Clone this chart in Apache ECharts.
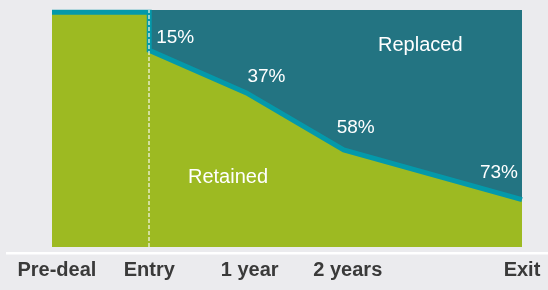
<!DOCTYPE html>
<html>
<head>
<meta charset="utf-8">
<script src="https://cdn.jsdelivr.net/npm/echarts@6/dist/echarts.min.js"></script>
<style>
  html, body { margin: 0; padding: 0; background: #ebebee; }
  #chart { width: 548px; height: 290px; }
</style>
</head>
<body>
<div id="chart"></div>
<script>
// stages along the x axis, in months from entry
const stageNames = ['Pre-deal', 'Entry', '1 year', '2 years', 'Exit']
const stageMonths = [-11.4, 0, 12.4, 24.5, 46]
// retained share (%) along the boundary: pre-deal start, entry before/after, 1 year, 2 years, exit
const boundaryMonths = [-12, 0, 0, 12, 24, 46]
const retainedShare = [99, 99, 83, 65, 41, 20]
// replaced labels shown at entry, 1 year, 2 years, exit
const replacedLabels = ['15%', '37%', '58%', '73%']
// replaced area spans entry to exit at full height
const replacedMonths = [0, 46]
const replacedTop = [100, 100]

const green = '#9dba22'
const teal = '#237482'
const cyan = '#0499aa'

// label offsets for each percent (px)
const labelOffsets = [[26, -13], [20, -16], [12, -22], [-23, -27]]

let boundaryData = boundaryMonths.map((m, i) => {
    let item = { value: [m, retainedShare[i]] }
    if (i >= 2) {
        item.label = {
            show: true,
            formatter: replacedLabels[i - 2],
            offset: labelOffsets[i - 2]
        }
    }
    return item
})

let chart = echarts.init(document.getElementById('chart'))
chart.setOption({
    backgroundColor: '#ebebee',
    animation: false,
    grid: { left: 52, right: 26, top: 10, bottom: 43 },
    xAxis: {
        type: 'value',
        min: -12,
        max: 46,
        axisLine: { show: false },
        axisTick: { show: false },
        splitLine: { show: false },
        axisLabel: {
            customValues: stageMonths,
            formatter: v => stageNames[stageMonths.indexOf(v)] || '',
            margin: 13,
            color: '#3a3a3a',
            fontSize: 20,
            fontWeight: 'bold',
            fontFamily: 'Liberation Sans'
        }
    },
    yAxis: {
        type: 'value',
        min: 0,
        max: 100,
        show: false
    },
    series: [
        {
            name: 'Replaced',
            type: 'line',
            data: replacedMonths.map((m, i) => [m, replacedTop[i]]),
            symbol: 'none',
            lineStyle: { width: 0 },
            areaStyle: { color: teal, opacity: 1 },
            z: 1
        },
        {
            name: 'Retained',
            type: 'line',
            data: boundaryData,
            symbol: 'circle',
            symbolSize: 0,
            showSymbol: true,
            lineStyle: { color: cyan, width: 5, join: 'miter' },
            itemStyle: { color: cyan },
            areaStyle: { color: green, opacity: 1 },
            label: {
                position: 'inside',
                align: 'center',
                verticalAlign: 'middle',
                color: '#ffffff',
                fontSize: 19,
                fontFamily: 'Liberation Sans'
            },
            markLine: {
                silent: true,
                symbol: 'none',
                label: { show: false },
                lineStyle: { color: 'rgba(240,245,225,0.85)', type: [4, 2], width: 1.5 },
                data: [{ xAxis: 0 }]
            },
            z: 2
        }
    ],
    graphic: [
        {
            type: 'text',
            left: 378,
            top: 35,
            z: 100,
            style: { text: 'Replaced', fill: '#ffffff', fontSize: 20, fontFamily: 'Liberation Sans' }
        },
        {
            type: 'text',
            left: 188,
            top: 167,
            z: 100,
            style: { text: 'Retained', fill: '#ffffff', fontSize: 20, fontFamily: 'Liberation Sans' }
        },
        {
            type: 'rect',
            shape: { x: 6, y: 252, width: 542, height: 2.5 },
            style: { fill: '#ffffff' }
        }
    ]
})
</script>
</body>
</html>
